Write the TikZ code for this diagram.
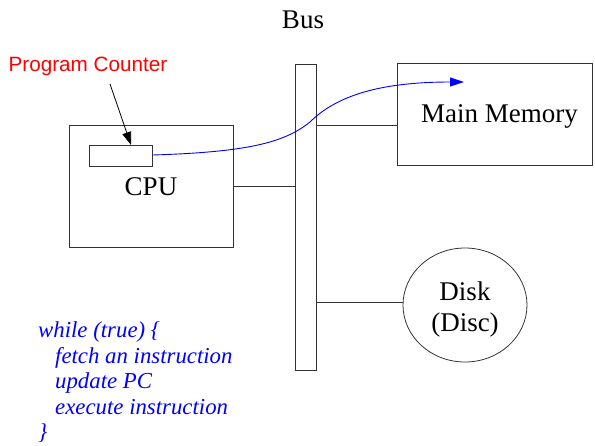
\documentclass[tikz,border=0pt]{standalone}
\usepackage{fontspec}
\setmainfont{Liberation Serif}
\newfontfamily\arialfont{Liberation Sans}
\usetikzlibrary{arrows.meta,shapes.geometric}
\tikzset{
  boxline/.style={draw=black!80, line width=0.8pt},
  blk/.style={boxline, rectangle, inner sep=0pt, anchor=north west},
  lbl/.style={font=\fontsize{27}{31}\selectfont, inner sep=0pt},
  conn/.style={black!80, line width=0.8pt},
}
\begin{document}
\begin{tikzpicture}[x=1pt,y=-1pt]
\useasboundingbox (0,0) rectangle (595,445);
% Bus
\node[lbl] (buslbl) at (303,20) {Bus};
\node[blk, minimum width=21pt, minimum height=306pt] (bus) at (295,64) {};
% Main memory
\node[blk, minimum width=195pt, minimum height=102pt] (mem) at (397,63) {};
\node[lbl] (memlbl) at (499.5,116) {Main Memory};
% CPU
\node[blk, minimum width=164pt, minimum height=122pt] (cpu) at (69,125) {};
\node[lbl] (cpulbl) at (151,187) {CPU};
% PC
\node[blk, minimum width=63pt, minimum height=21pt] (pc) at (89,145) {};
\node[font=\arialfont\fontsize{20.7}{24}\selectfont, text=red, inner sep=0pt] (pclbl) at (88,66) {Program Counter};
% Disk
\node[boxline, ellipse, minimum width=124pt, minimum height=114pt, inner sep=0pt] (disk) at (465,305) {};
\node[lbl, align=center] (disklbl) at (465,309.5) {Disk\\(Disc)};
% connectors
\draw[conn] (cpu.east |- 0,186) -- (bus.west |- 0,186);
\draw[conn] (bus.east |- 0,125) -- (mem.west |- 0,125);
\draw[conn] (bus.east |- 0,302) -- (disk.west |- 0,302);
\coordinate (pcarrowstart) at (110,84);
\draw[black, line width=0.8pt, -{Triangle[length=13pt,width=9pt]}] (pcarrowstart) -- (pc.north -| 131,0);
\coordinate (memtarget) at (464,82);
\draw[blue, line width=0.9pt, -{Triangle[length=14pt,width=9pt]}] (pc.east |- 0,155)
  .. controls (250,152) and (285,142) .. (310,122)
  .. controls (340,92) and (390,82) .. (memtarget);
% code
\node[font=\itshape\fontsize{22.8}{25.5}\selectfont, text=blue, align=left, anchor=north west, inner sep=0pt] (code) at (38,321.5)
  {while (true) \{\\\hspace*{17pt}fetch an instruction\\\hspace*{17pt}update PC\\\hspace*{17pt}execute instruction\\\}};
\end{tikzpicture}
\end{document}
